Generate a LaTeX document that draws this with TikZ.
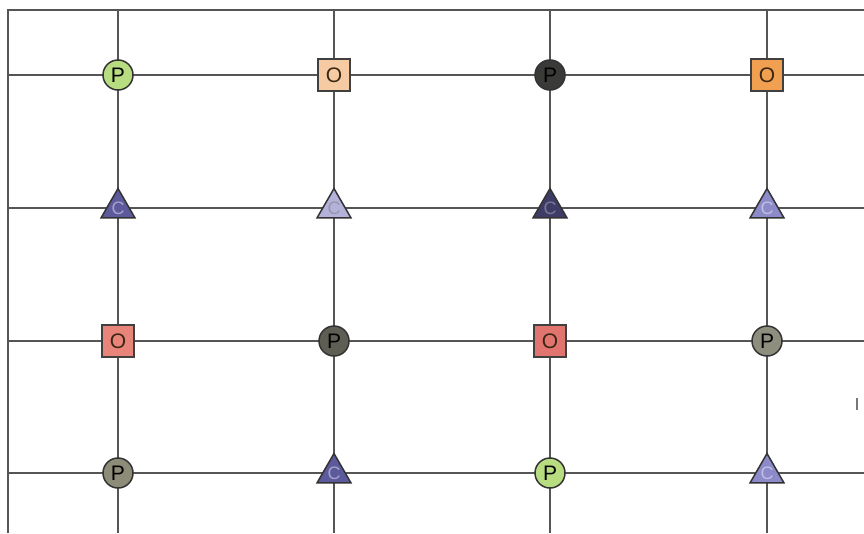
\documentclass[tikz,border=0pt]{standalone}
\usepackage{fontspec}
\setmainfont{Liberation Sans}
\usetikzlibrary{shapes.geometric}

\definecolor{gridgray}{HTML}{555555}
\definecolor{limegreen}{HTML}{B8DC80}
\definecolor{peach}{HTML}{F6CBA3}
\definecolor{charcoal}{HTML}{3A3A38}
\definecolor{amber}{HTML}{F0A050}
\definecolor{salmon}{HTML}{E8847A}
\definecolor{coral}{HTML}{E27470}
\definecolor{slate}{HTML}{5E5E54}
\definecolor{stone}{HTML}{8E8E7E}
\definecolor{olivegray}{HTML}{8C8C78}
\definecolor{indigo}{HTML}{5C5A9C}
\definecolor{lavender}{HTML}{B4B2DA}
\definecolor{navy}{HTML}{3E3C66}
\definecolor{violet}{HTML}{8C8AC8}

\tikzset{
  gridline/.style={draw=gridgray, line width=2},
  pnode/.style={circle, draw=black!80, line width=1.5, minimum size=30, inner sep=0,
    font=\fontsize{21}{21}\selectfont},
  onode/.style={rectangle, draw=black!75, line width=1.5, minimum size=32, inner sep=0,
    font=\fontsize{21}{21}\selectfont, text=black!70!brown},
  cnode/.style={regular polygon, regular polygon sides=3, draw=black!80, line width=1.5,
    minimum size=39, inner sep=0, font=\fontsize{18}{18}\selectfont}
}

\begin{document}
\begin{tikzpicture}[x=1pt, y=-1pt]
  \useasboundingbox (0,0) rectangle (864,533);

  % frame
  \draw[gridline] (8,533) -- (8,10) -- (864,10);

  % grid
  \foreach \gx in {118,334,550,767}
    \draw[gridline] (\gx,10) -- (\gx,533);
  \foreach \gy in {75,208,341,473}
    \draw[gridline] (8,\gy) -- (864,\gy);

  % row 1
  \node[pnode, fill=limegreen] (p11) at (118,75) {P};
  \node[onode, fill=peach] (o12) at (334,75) {O};
  \node[pnode, fill=charcoal] (p13) at (550,75) {P};
  \node[onode, fill=amber] (o14) at (767,75) {O};

  % row 2
  \node[cnode, fill=indigo, text=indigo!55!white] (c21) at (118,208) {C};
  \node[cnode, fill=lavender, text=lavender!45!gray] (c22) at (334,208) {C};
  \node[cnode, fill=navy, text=navy!70!white] (c23) at (550,208) {C};
  \node[cnode, fill=violet, text=violet!55!white] (c24) at (767,208) {C};

  % row 3
  \node[onode, fill=salmon] (o31) at (118,341) {O};
  \node[pnode, fill=slate] (p32) at (334,341) {P};
  \node[onode, fill=coral] (o33) at (550,341) {O};
  \node[pnode, fill=stone] (p34) at (767,341) {P};

  % row 4
  \node[pnode, fill=olivegray] (p41) at (118,473) {P};
  \node[cnode, fill=indigo, text=indigo!55!white] (c42) at (334,473) {C};
  \node[pnode, fill=limegreen] (p43) at (550,473) {P};
  \node[cnode, fill=violet, text=violet!55!white] (c44) at (767,473) {C};

  % stray mark
  \draw[gridgray!80, line width=1.5] (857,398) -- (857,410);
\end{tikzpicture}
\end{document}
